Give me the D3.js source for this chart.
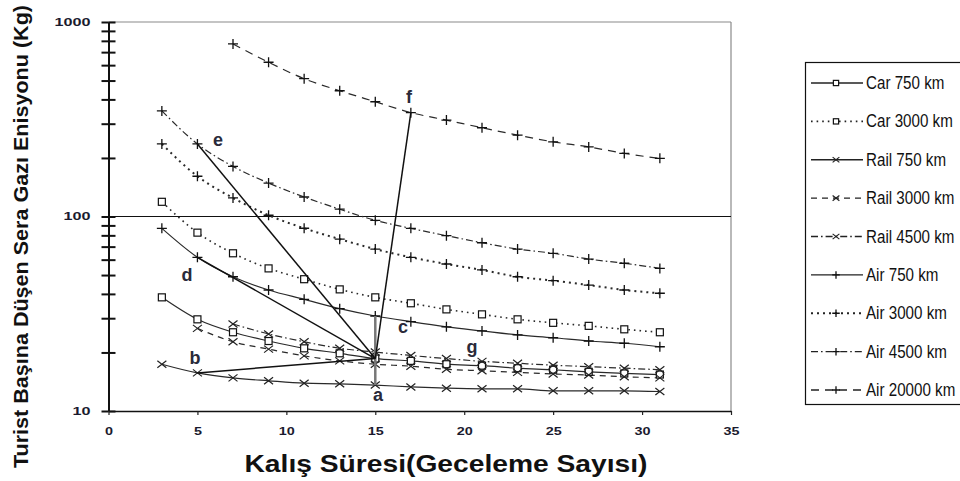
<!DOCTYPE html>
<html><head><meta charset="utf-8">
<script src="https://cdn.jsdelivr.net/npm/d3@7"></script>
<style>body{margin:0;background:#fff}svg{display:block}</style>
</head><body>
<svg id="c" width="960" height="481"></svg>
<script>
// ---------- data ----------
const nights = [3,5,7,9,11,13,15,17,19,21,23,25,27,29,31];
const car750   = [38.4,29.6,25.4,22.9,21.0,19.8,18.6,18.1,17.4,17.1,16.6,16.3,15.9,15.6,15.4];
const car3000  = [119,82.6,64.7,54.1,47.6,42.2,38.4,35.8,33.3,31.4,29.6,28.4,27.4,26.3,25.4];
const rail750  = [17.4,15.7,14.8,14.3,13.9,13.8,13.6,13.3,13.1,13.0,13.0,12.7,12.7,12.7,12.6];
const rail3000 = [null,26.6,22.7,20.8,19.2,18.1,17.4,17.0,16.4,16.1,15.8,15.5,15.3,15.0,14.8];
const rail4500 = [null,null,28.0,24.9,22.7,21.0,20.1,19.3,18.6,18.0,17.6,17.2,16.9,16.6,16.3];
const air750   = [86.9,61.7,49.0,41.9,37.5,33.6,30.8,28.8,27.1,25.8,24.6,23.8,22.9,22.3,21.4];
const air3000  = [236,161,124.6,101.5,87,76.5,68,61.7,57,53.1,49,46.8,44.4,41.9,40.3];
const air4500  = [349,236,181,148.6,126,109,95.6,86.9,79.7,73.3,68,64.7,60.4,57.5,54.1];
const air20000 = [null,null,771,621,511,443,389,342,313,286,262,242,228,211,199];

const seriesNames = ["Car 750 km","Car 3000 km","Rail 750 km","Rail 3000 km","Rail 4500 km",
                     "Air 750 km","Air 3000 km","Air 4500 km","Air 20000 km"];
const seriesValues = [car750,car3000,rail750,rail3000,rail4500,air750,air3000,air4500,air20000];

const xTickValues = [0,5,10,15,20,25,30,35];
const yLabelValues = [10,100,1000];
const xTitle = "Kalış Süresi(Geceleme Sayısı)";
const yTitle = "Turist Başına Düşen Sera Gazı Enisyonu (Kg)";

// annotation segments: [series, night] -> [series, night]
const segFrom = [["Rail 750 km",5],["Air 750 km",5],["Air 4500 km",5],["Car 750 km",15]];
const segTo   = [["Car 750 km",15],["Car 750 km",15],["Car 750 km",15],["Air 20000 km",17]];
const vertFrom = ["Rail 750 km",15], vertTo = ["Air 750 km",15];
// point labels in data coordinates
const labelText = ["a","b","c","d","e","f","g"];
const labelX    = [15.15,4.86,16.56,4.41,6.16,16.9,20.44];
const labelY    = [12.1,18.7,27.0,50.0,247,411,21.3];

// ---------- styles ----------
const style = {
  "Car 750 km":   {m:"square", dash:null},
  "Car 3000 km":  {m:"square", dash:"1.6,4", w:1.6},
  "Rail 750 km":  {m:"cross",  dash:null},
  "Rail 3000 km": {m:"cross",  dash:"6,5"},
  "Rail 4500 km": {m:"cross",  dash:"7,3,1.6,3"},
  "Air 750 km":   {m:"plus",   dash:null},
  "Air 3000 km":  {m:"plus",   dash:"2,4", w:2},
  "Air 4500 km":  {m:"plus",   dash:"7,3,1.6,3"},
  "Air 20000 km": {m:"plus",   dash:"8,6"}
};

const svg = d3.select("#c");
const x = d3.scaleLinear().domain([0,35]).range([108.5,731]);
const y = d3.scaleLog().domain([10,1000]).range([411,22]);
const val = (name, n) => seriesValues[seriesNames.indexOf(name)][nights.indexOf(n)];

// frame
svg.append("line").attr("x1",x(0)).attr("x2",x(35)).attr("y1",y(1000)).attr("y2",y(1000))
  .attr("stroke","#8a8a8a").attr("stroke-width",1.2);
svg.append("line").attr("x1",x(35)).attr("x2",x(35)).attr("y1",y(1000)).attr("y2",y(10))
  .attr("stroke","#8a8a8a").attr("stroke-width",1.2);
svg.append("line").attr("x1",x(0)).attr("x2",x(35)).attr("y1",y(100)).attr("y2",y(100))
  .attr("stroke","#111").attr("stroke-width",1.2);

// axes
const tickFont = g => g.selectAll("text").attr("font-family","Liberation Sans, Arial, sans-serif")
  .attr("font-weight","bold").attr("font-size",10.5).attr("fill","#1a1a2e");
const yMinor = y.ticks();
const yAxisL = svg.append("g").attr("transform",`translate(${x(0)},0)`)
  .call(d3.axisLeft(y).tickValues(yMinor).tickSizeInner(7).tickSizeOuter(0).tickPadding(11)
    .tickFormat(d => yLabelValues.includes(d) ? String(d) : ""));
yAxisL.call(tickFont);
yAxisL.selectAll("text").each(function(){ const t=this.textContent; if(t) d3.select(this).attr("textLength",t.length*9).attr("lengthAdjust","spacingAndGlyphs");});
const yAxisR = svg.append("g").attr("transform",`translate(${x(0)},0)`)
  .call(d3.axisRight(y).tickValues(yMinor).tickSizeInner(7).tickSizeOuter(0).tickFormat(""));
[yAxisL,yAxisR].forEach(g=>{g.selectAll("line").attr("stroke","#111").attr("stroke-width",2);
  g.select(".domain").attr("stroke","#111").attr("stroke-width",2);});

const xAxis = svg.append("g").attr("transform",`translate(0,${y(10)})`)
  .call(d3.axisBottom(x).tickValues(xTickValues).tickSizeInner(4).tickSizeOuter(0).tickPadding(13));
xAxis.call(tickFont);
xAxis.selectAll("text").each(function(){ const t=this.textContent; d3.select(this).attr("textLength",t.length*8).attr("lengthAdjust","spacingAndGlyphs");});
xAxis.selectAll("line").attr("stroke","#222").attr("stroke-width",1.2);
xAxis.select(".domain").attr("stroke","#111").attr("stroke-width",1.5);

// markers
function drawMarker(g, type, cx, cy, s) {
  s = s || 1;
  if (type === "square") {
    g.append("rect").attr("x",cx-3.5*s).attr("y",cy-3.5*s).attr("width",7*s).attr("height",7*s)
      .attr("fill","#fff").attr("stroke","#111").attr("stroke-width",1.2);
  } else if (type === "plus") {
    g.append("path").attr("d",`M${cx-5*s},${cy}H${cx+5*s}M${cx},${cy-5*s}V${cy+5*s}`)
      .attr("stroke","#111").attr("stroke-width",1.3).attr("fill","none");
  } else {
    g.append("path").attr("d",`M${cx-4.5*s},${cy-3.5*s}L${cx+4.5*s},${cy+3.5*s}M${cx-4.5*s},${cy+3.5*s}L${cx+4.5*s},${cy-3.5*s}`)
      .attr("stroke","#222").attr("stroke-width",1.2).attr("fill","none");
  }
}

// series lines
const line = d3.line().defined(d => d[1] != null).x(d => x(d[0])).y(d => y(d[1])).curve(d3.curveMonotoneX);
const gLines = svg.append("g");
seriesNames.forEach((name,i) => {
  const pts = nights.map((n,j) => [n, seriesValues[i][j]]).filter(d => d[1] != null);
  const st = style[name];
  gLines.append("path").attr("d", line(pts)).attr("fill","none")
    .attr("stroke","#2a2a2a").attr("stroke-width", st.w || 1.2)
    .attr("stroke-dasharray", st.dash);
});
const gMarks = svg.append("g");
seriesNames.forEach((name,i) => {
  nights.forEach((n,j) => { const v = seriesValues[i][j]; if (v != null) drawMarker(gMarks, style[name].m, x(n), y(v)); });
});

// annotations
const gAnn = svg.append("g");
gAnn.append("line").attr("x1",x(vertFrom[1])).attr("y1",y(val(...vertFrom)))
  .attr("x2",x(vertTo[1])).attr("y2",y(val(...vertTo)))
  .attr("stroke","#777").attr("stroke-width",2.5);
segFrom.forEach((f,i) => {
  const t = segTo[i];
  gAnn.append("line").attr("x1",x(f[1])).attr("y1",y(val(...f)))
    .attr("x2",x(t[1])).attr("y2",y(val(...t)))
    .attr("stroke","#111").attr("stroke-width",1.5);
});
labelText.forEach((t,i) => {
  gAnn.append("text").attr("x",x(labelX[i])).attr("y",y(labelY[i]))
    .attr("text-anchor","middle").attr("dominant-baseline","central")
    .attr("font-family","Liberation Sans, Arial, sans-serif").attr("font-weight","bold")
    .attr("font-size",18).attr("fill","#2a2a3a").text(t);
});

// axis titles
svg.append("text").attr("x",446).attr("y",472).attr("text-anchor","middle")
  .attr("font-family","Liberation Sans, Arial, sans-serif").attr("font-weight","bold")
  .attr("font-size",24).attr("fill","#111").attr("textLength",403).attr("lengthAdjust","spacingAndGlyphs")
  .text(xTitle);
svg.append("text").attr("transform","translate(28,236.5) rotate(-90)").attr("text-anchor","middle")
  .attr("font-family","Liberation Sans, Arial, sans-serif").attr("font-weight","bold")
  .attr("font-size",20).attr("fill","#111").attr("textLength",463).attr("lengthAdjust","spacingAndGlyphs")
  .text(yTitle);

// legend
const lg = svg.append("g");
lg.append("rect").attr("x",805.5).attr("y",62.5).attr("width",170).attr("height",342)
  .attr("fill","#fff").attr("stroke","#111").attr("stroke-width",1.2);
const ly = d3.scalePoint().domain(seriesNames).range([83,390]);
seriesNames.forEach(name => {
  const st = style[name], yy = ly(name);
  lg.append("line").attr("x1",811).attr("x2",863).attr("y1",yy).attr("y2",yy)
    .attr("stroke","#222").attr("stroke-width", st.w || 1.3).attr("stroke-dasharray", st.dash);
  drawMarker(lg, st.m, 836, yy, 0.75);
  lg.append("text").attr("transform",`translate(866,${yy}) scale(0.82,1)`)
    .attr("dominant-baseline","central")
    .attr("font-family","Liberation Sans, Arial, sans-serif")
    .attr("font-size",18.5).attr("fill","#111").text(name);
});
</script>
</body></html>
